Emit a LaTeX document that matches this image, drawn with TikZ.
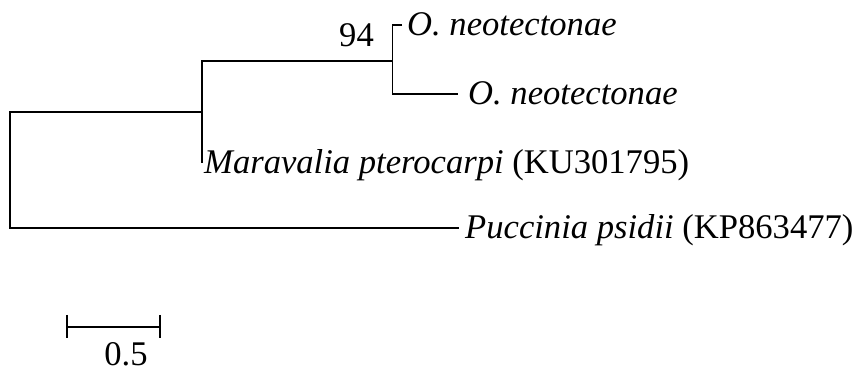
\documentclass[tikz,border=0pt]{standalone}
\usepackage{fontspec}
\setmainfont{Liberation Serif}
\begin{document}
\begin{tikzpicture}[x=1pt,y=-1pt,
  branch/.style={line width=1.9pt, line join=miter, line cap=butt},
  taxon/.style={inner sep=0pt, anchor=base west, font=\fontsize{34.6}{40}\selectfont},
  numlabel/.style={inner sep=0pt, font=\fontsize{34.6}{40}\selectfont}]
\useasboundingbox (0,0) rectangle (855,371);
% internal corners
\coordinate (Rt) at (10,112);
\coordinate (Rb) at (10,228);
\coordinate (At) at (202,61);
\coordinate (Am) at (202,112);
\coordinate (Ab) at (202,163);
\coordinate (Bt) at (392.5,25);
\coordinate (Bm) at (392.5,61);
\coordinate (Bb) at (392.5,94);
% tips
\coordinate (T1) at (402,25);
\coordinate (T2) at (458,94);
\coordinate (T4) at (459,228);
% labels
\node[taxon] (L1) at (407,36) {\textit{O. neotectonae}};
\node[taxon] (L2) at (468,105) {\textit{O. neotectonae}};
\node[taxon] (L3) at (204,174) {\textit{Maravalia pterocarpi} (KU301795)};
\node[taxon] (L4) at (465,239) {\textit{Puccinia psidii} (KP863477)};
\node[numlabel, anchor=base east] (boot) at (374,47) {94};
% branches
\draw[branch] (Am) -- (Rt) -- (Rb) -- (T4);
\draw[branch] (Bm) -- (At) -- (Ab);
\draw[branch] (T1) -- (Bt) -- (Bb) -- (T2);
% scale bar
\coordinate (S1) at (67,327);
\coordinate (S2) at (160,327);
\draw[branch] (S1) -- (S2);
\draw[branch] ([yshift=12pt]S1) -- ([yshift=-11pt]S1);
\draw[branch] ([yshift=12pt]S2) -- ([yshift=-11pt]S2);
\node[numlabel, anchor=base] (scale) at (126,366) {0.5};
\end{tikzpicture}
\end{document}
